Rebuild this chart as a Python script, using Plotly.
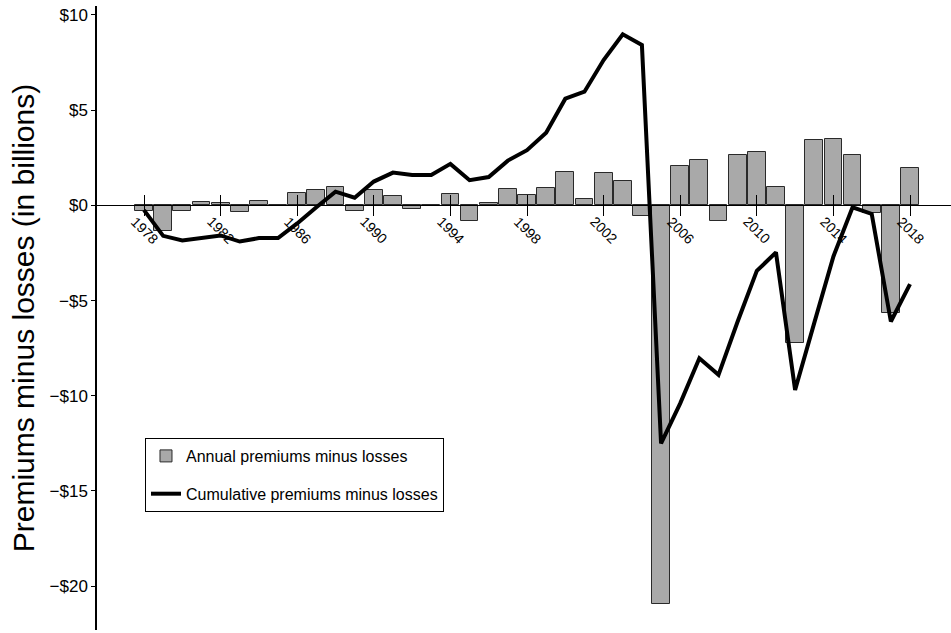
import plotly.graph_objects as go

years = list(range(1978, 2019))
annual = [-0.30, -1.33, -0.28, 0.18, 0.14, -0.35, 0.21, 0.0, 0.67, 0.81,
          0.97, -0.30, 0.81, 0.47, -0.17, 0.0, 0.60, -0.84, 0.14, 0.86,
          0.55, 0.92, 1.77, 0.34, 1.68, 1.28, -0.58, -20.95, 2.06, 2.40,
          -0.83, 2.63, 2.82, 0.96, -7.21, 3.44, 3.49, 2.63, -0.39, -5.63, 1.98]
cumulative = [-0.25, -1.60, -1.84, -1.72, -1.58, -1.90, -1.72, -1.72, -0.95, -0.10,
              0.72, 0.40, 1.25, 1.72, 1.60, 1.60, 2.18, 1.32, 1.49, 2.35,
              2.90, 3.81, 5.60, 5.97, 7.63, 8.98, 8.42, -12.50, -10.40, -8.03,
              -8.90, -6.10, -3.44, -2.47, -9.70, -6.17, -2.68, -0.10, -0.45, -6.10, -4.14]
x_tick_years = [1978, 1982, 1986, 1990, 1994, 1998, 2002, 2006, 2010, 2014, 2018]
x_tick_labels = [str(y) for y in x_tick_years]
y_tick_vals = [-20, -15, -10, -5, 0, 5, 10]
y_tick_labels = ["\u2212$20", "\u2212$15", "\u2212$10", "\u2212$5", "$0", "$5", "$10"]

FONT = "Liberation Sans, Arial, Helvetica, sans-serif"
y_range = [-22.3, 10.47]
x_range = [1975.546, 2020.14]
zero_pos = (0 - y_range[0]) / (y_range[1] - y_range[0])

fig = go.Figure()
fig.add_trace(go.Bar(
    x=years, y=annual, name="Annual premiums minus losses",
    width=0.93, marker=dict(color="#a9a9a9", line=dict(color="#2a2a2a", width=1)),
    legendgroup="a", hoverinfo="x+y",
))
fig.add_trace(go.Scatter(
    x=years, y=cumulative, mode="lines", name="Cumulative premiums minus losses",
    line=dict(color="black", width=4), legendgroup="b",
))
# helper trace so the overlaid axis (upper tick halves) is rendered
fig.add_trace(go.Scatter(
    x=years, y=cumulative, mode="lines", xaxis="x2", line=dict(width=0),
    opacity=0, showlegend=False, hoverinfo="skip",
))

for yr, lab in zip(x_tick_years, x_tick_labels):
    fig.add_annotation(x=yr, y=0, xref="x", yref="y", text=lab, showarrow=False,
                       textangle=45, yshift=-25, xanchor="center", yanchor="middle",
                       font=dict(family=FONT, size=14, color="black"))

fig.update_layout(
    width=951, height=633,
    margin=dict(l=97, r=0, t=6, b=3, autoexpand=False),
    plot_bgcolor="white", paper_bgcolor="white",
    font=dict(family=FONT, color="black"),
    bargap=0,
    xaxis=dict(range=x_range, anchor="free", position=zero_pos, showline=True,
               linecolor="black", linewidth=1, ticks="outside", ticklen=10,
               tickcolor="black", tickwidth=1, tickvals=x_tick_years,
               showticklabels=False, showgrid=False, zeroline=False, automargin=False),
    xaxis2=dict(range=x_range, overlaying="x", matches="x", anchor="free",
                position=zero_pos, showline=False, ticks="inside", ticklen=10,
                tickcolor="black", tickwidth=1, tickvals=x_tick_years,
                showticklabels=False, showgrid=False, zeroline=False, automargin=False),
    yaxis=dict(range=y_range, tickvals=y_tick_vals, ticktext=y_tick_labels,
               ticks="outside", ticklen=4, tickcolor="black", tickwidth=1,
               showline=True, linecolor="black", linewidth=1.5,
               showgrid=False, zeroline=False, automargin=False,
               tickfont=dict(family=FONT, size=17, color="black"),
               title=dict(text="Premiums minus losses (in billions)", standoff=6,
                          font=dict(family=FONT, size=30, color="black"))),
    legend=dict(x=0.0562, y=0.3077, xanchor="left", yanchor="top",
                bordercolor="black", borderwidth=1, bgcolor="white",
                font=dict(family=FONT, size=16, color="black"),
                traceorder="grouped", tracegroupgap=14),
    showlegend=True,
)

fig.write_html("out.html", config={"displayModeBar": False},
               post_script="document.body.style.margin='0';document.body.style.padding='0';")
